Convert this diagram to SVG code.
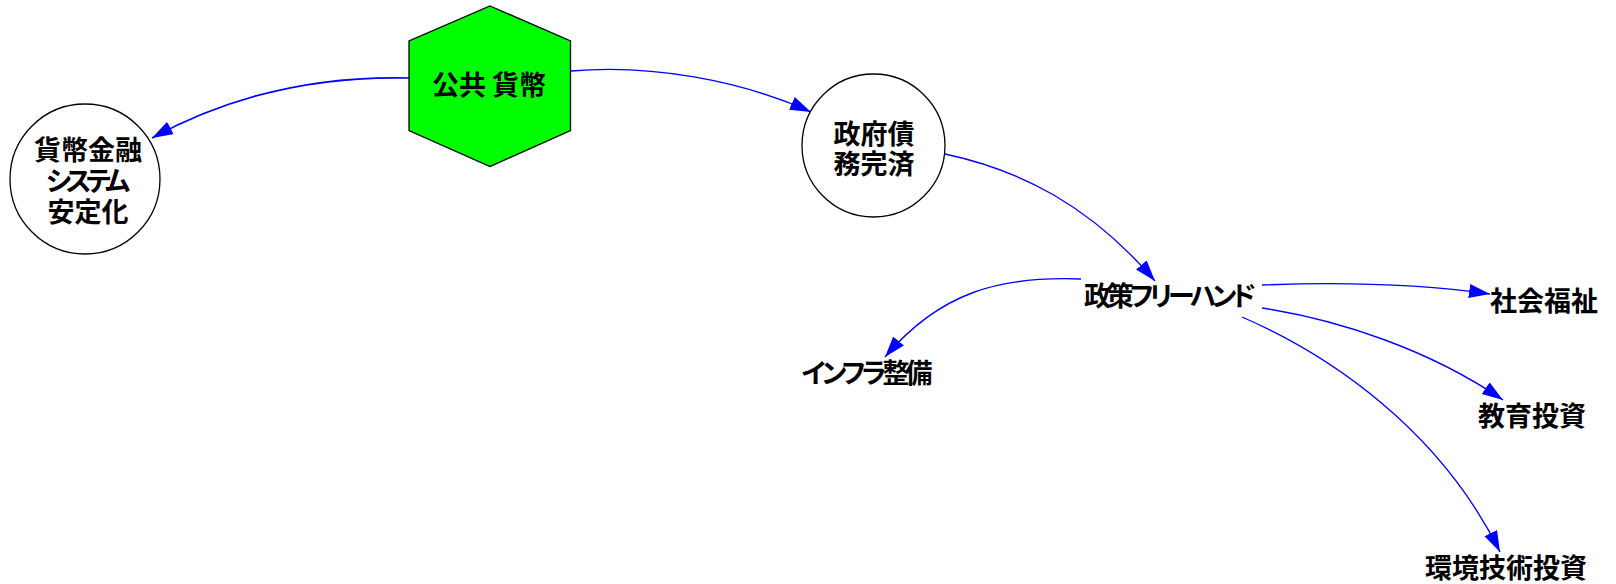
<svg xmlns="http://www.w3.org/2000/svg" width="1616" height="584" viewBox="0 0 1616 584">
<style>
.lbl{font-family:"Noto Sans CJK JP","Noto Sans CJK SC",sans-serif;font-size:27px;font-weight:bold;fill:#000;text-anchor:middle;font-feature-settings:"palt"}
.node{stroke:#000;stroke-width:1.3}
.edge{fill:none;stroke:#0000ff;stroke-width:1.35}
</style>
<defs>
<marker id="ah" markerUnits="userSpaceOnUse" markerWidth="24" markerHeight="16" refX="21" refY="7" orient="auto">
<path d="M0,0 L21,7 L0,14 z" fill="#0000ff"/>
</marker>
</defs>
<rect width="1616" height="584" fill="#fff"/>
<g id="connectors">
<path class="edge" style="stroke-width:1.7" d="M409,78 C330,76 240,90 152,138" marker-end="url(#ah)"/>
<path class="edge" d="M571,71 C650,64 740,80 811,112" marker-end="url(#ah)"/>
<path class="edge" d="M945,154 C1020,170 1090,205 1155,281" marker-end="url(#ah)"/>
<path class="edge" d="M1081,279 C1000,276 940,292 885,357" marker-end="url(#ah)"/>
<path class="edge" d="M1262,285 C1340,282 1420,284 1490,294" marker-end="url(#ah)"/>
<path class="edge" d="M1262,308 C1340,320 1430,350 1503,400" marker-end="url(#ah)"/>
<path class="edge" d="M1242,317 C1330,355 1440,430 1500,552" marker-end="url(#ah)"/>
</g>
<g id="n_kokyo">
<polygon class="node" fill="#00ff00" points="490,6 570.5,41 570.5,130.5 490,166.5 409,130.5 409,41"/>
<text class="lbl" x="489" y="95">公共 貨幣</text>
</g>
<g id="n_kinyu">
<circle class="node" fill="#fff" cx="85" cy="179" r="75"/>
<text class="lbl" x="88" y="159.5">貨幣金融</text>
<text class="lbl" x="88" y="191" textLength="84" lengthAdjust="spacing">システム</text>
<text class="lbl" x="88" y="221.5">安定化</text>
</g>
<g id="n_seifu">
<circle class="node" fill="#fff" cx="873.5" cy="145.5" r="71.5"/>
<text class="lbl" x="874" y="144">政府債</text>
<text class="lbl" x="874" y="174">務完済</text>
</g>
<g id="n_seisaku">
<text class="lbl" x="1170" y="306" textLength="172" lengthAdjust="spacing">政策フリーハンド</text>
</g>
<g id="n_infra">
<text class="lbl" x="867" y="383" textLength="131" lengthAdjust="spacing">インフラ整備</text>
</g>
<g id="n_shakai">
<text class="lbl" x="1544" y="311">社会福祉</text>
</g>
<g id="n_kyoiku">
<text class="lbl" x="1532" y="426">教育投資</text>
</g>
<g id="n_kankyo">
<text class="lbl" x="1506" y="578">環境技術投資</text>
</g>
</svg>
